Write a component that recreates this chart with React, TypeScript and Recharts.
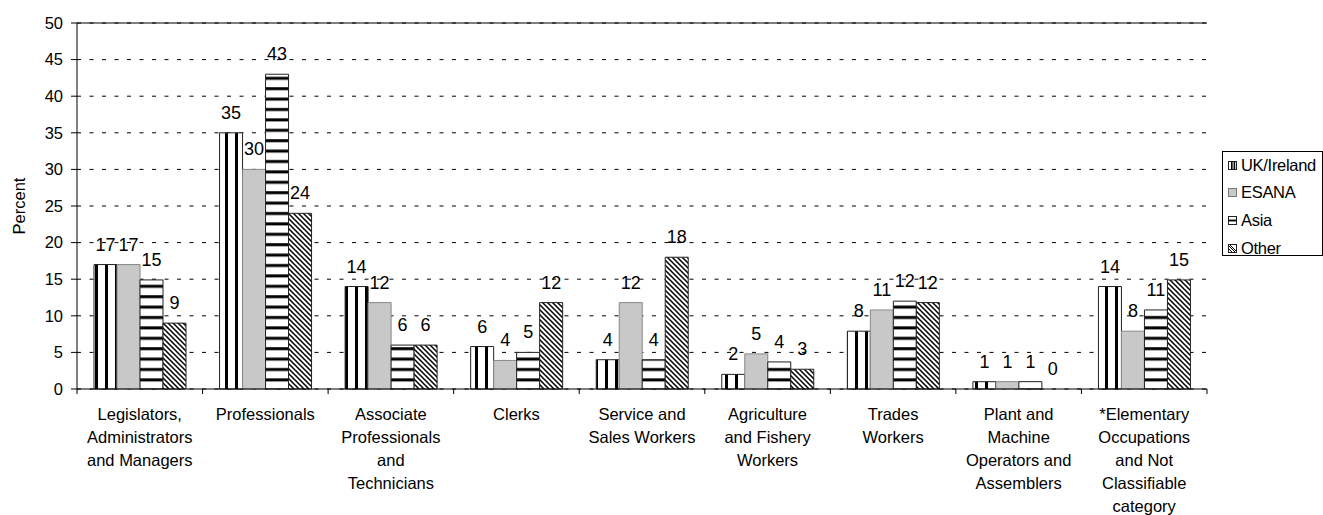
import { Bar, BarChart, CartesianGrid, LabelList, ReferenceDot, ReferenceLine, XAxis, YAxis } from 'recharts'

const FONT = '"Liberation Sans", Arial, sans-serif'

const categories = [
  'Legislators, Administrators and Managers',
  'Professionals',
  'Associate Professionals and Technicians',
  'Clerks',
  'Service and Sales Workers',
  'Agriculture and Fishery Workers',
  'Trades Workers',
  'Plant and Machine Operators and Assemblers',
  '*Elementary Occupations and Not Classifiable category',
]

const tickLabels = [
  ['Legislators,', 'Administrators', 'and Managers'],
  ['Professionals'],
  ['Associate', 'Professionals', 'and', 'Technicians'],
  ['Clerks'],
  ['Service and', 'Sales Workers'],
  ['Agriculture', 'and Fishery', 'Workers'],
  ['Trades', 'Workers'],
  ['Plant and', 'Machine', 'Operators and', 'Assemblers'],
  ['*Elementary', 'Occupations', 'and Not', 'Classifiable', 'category'],
]

const ukIreland = [17, 35, 14, 5.8, 4, 2, 7.9, 1, 14]
const esana = [17, 30, 11.8, 3.9, 11.8, 4.8, 10.8, 1, 7.9]
const asia = [14.9, 43, 6, 5, 4, 3.7, 12, 1, 10.8]
const other = [9, 24, 6, 11.8, 18, 2.7, 11.8, 0, 14.9]

const yTicks = [0, 5, 10, 15, 20, 25, 30, 35, 40, 45, 50]

const data = categories.map((name, i) => ({
  name,
  uk: ukIreland[i],
  esana: esana[i],
  asia: asia[i],
  other: other[i],
}))

const series = [
  { key: 'uk', label: 'UK/Ireland', fill: 'url(#pat-vert)', stroke: '#222' },
  { key: 'esana', label: 'ESANA', fill: '#c8c8c8', stroke: '#888' },
  { key: 'asia', label: 'Asia', fill: 'url(#pat-horiz)', stroke: '#222' },
  { key: 'other', label: 'Other', fill: 'url(#pat-diag)', stroke: '#222' },
]

const labelStyle = { fill: '#000', fontSize: 18, fontFamily: FONT }

function CategoryTick(props: any) {
  const { x, y, payload } = props
  const idx = categories.indexOf(payload.value)
  const lines = tickLabels[idx] || [payload.value]
  const half = payload.offset || 0
  return (
    <g>
      <line x1={x - half} x2={x - half} y1={y} y2={y + 5} stroke="#000" />
      {idx === categories.length - 1 && <line x1={x + half} x2={x + half} y1={y} y2={y + 5} stroke="#000" />}
      <text x={x} y={y + 31} textAnchor="middle" fontSize={16.5} fontFamily={FONT} fill="#000">
        {lines.map((line, i) => (
          <tspan key={i} x={x} dy={i === 0 ? 0 : 23}>
            {line}
          </tspan>
        ))}
      </text>
    </g>
  )
}

function PercentLabel() {
  return (
    <text x={25} y={206} transform="rotate(-90 25 206)" textAnchor="middle" fontSize={16.5} fontFamily={FONT} fill="#000">
      Percent
    </text>
  )
}

function LegendIcon({ kind }: { kind: string }) {
  return (
    <svg width={9} height={9} style={{ display: 'block' }}>
      {kind === 'esana' ? (
        <rect x={0.5} y={0.5} width={8} height={8} fill="#c8c8c8" stroke="#777" />
      ) : (
        <rect x={0.5} y={0.5} width={8} height={8} fill="#fff" stroke="#222" />
      )}
      {kind === 'uk' && (
        <>
          <rect x={3} y={0.5} width={1.6} height={8} fill="#000" />
          <rect x={5.6} y={0.5} width={1.6} height={8} fill="#000" />
        </>
      )}
      {kind === 'asia' && <rect x={0.5} y={3.6} width={8} height={1.8} fill="#000" />}
      {kind === 'other' && <path d="M1,2 L7,8 M2,1 L8,7 M1,5 L4,8" stroke="#000" strokeWidth={1} />}
    </svg>
  )
}

export default function App() {
  return (
    <div style={{ position: 'absolute', left: 0, top: 0, width: 1323, height: 515, background: '#fff', fontFamily: FONT }}>
      <BarChart
        width={1323}
        height={515}
        data={data}
        margin={{ top: 23, right: 116, bottom: 0, left: 0 }}
        barCategoryGap={17}
        barGap={0}
      >
        <defs>
          <pattern id="pat-vert" patternUnits="userSpaceOnUse" width={10} height={10}>
            <rect width={10} height={10} fill="#fff" />
            <rect x={5} width={3} height={10} fill="#000" />
          </pattern>
          <pattern id="pat-horiz" patternUnits="userSpaceOnUse" width={10} height={10.4}>
            <rect width={10} height={10.4} fill="#fff" />
            <rect y={4} width={10} height={3} fill="#000" />
          </pattern>
          <pattern id="pat-diag" patternUnits="userSpaceOnUse" width={5} height={5}>
            <rect width={5} height={5} fill="#fff" />
            <path d="M0,0 L5,5 M-1,4 L1,6 M4,-1 L6,1" stroke="#000" strokeWidth={1.5} />
          </pattern>
        </defs>
        <CartesianGrid vertical={false} stroke="#000" strokeDasharray="4 8.5" />
        <ReferenceLine y={50} stroke="#000" strokeWidth={1.2} />
        <XAxis
          dataKey="name"
          height={126}
          interval={0}
          tickLine={false}
          tickSize={0}
          tickMargin={0}
          axisLine={{ stroke: '#000' }}
          tick={<CategoryTick />}
        />
        <YAxis
          width={77}
          domain={[0, 50]}
          ticks={yTicks}
          interval={0}
          tickSize={6}
          tickMargin={8}
          axisLine={{ stroke: '#000' }}
          tickLine={{ stroke: '#000' }}
          tick={{ fill: '#000', fontSize: 16.5, fontFamily: FONT }}
          label={<PercentLabel />}
        />
        <YAxis yAxisId="right" orientation="right" width={0} tick={false} tickLine={false} axisLine={{ stroke: '#333' }} />
        {series.map((s) => (
          <Bar key={s.key} dataKey={s.key} fill={s.fill} stroke={s.stroke} strokeWidth={1} isAnimationActive={false}>
            <LabelList
              dataKey={s.key}
              position="top"
              offset={14}
              formatter={(v: any) => String(Math.round(Number(v)))}
              style={labelStyle}
            />
          </Bar>
        ))}
        {/* zero-height bars get no label from LabelList, so add it at the data point */}
        {other.map((v, i) =>
          v === 0 ? (
            <ReferenceDot
              key={`zero-${i}`}
              x={categories[i]}
              y={v}
              r={0}
              stroke="none"
              fill="none"
              label={{ value: String(v), position: 'top', offset: 14, dx: 34, style: labelStyle }}
            />
          ) : null,
        )}
      </BarChart>
      <div
        style={{
          position: 'absolute',
          left: 1222,
          top: 151,
          width: 101,
          height: 105,
          border: '1px solid #000',
          boxSizing: 'border-box',
          background: '#fff',
        }}
      >
        {series.map((s, i) => (
          <div
            key={s.key}
            style={{
              position: 'absolute',
              left: 5,
              top: 3 + i * 27.7,
              height: 20,
              display: 'flex',
              alignItems: 'center',
              gap: 4,
              fontSize: 16.5,
              letterSpacing: -0.3,
              whiteSpace: 'nowrap',
              color: '#000',
            }}
          >
            <LegendIcon kind={s.key} />
            <span>{s.label}</span>
          </div>
        ))}
      </div>
    </div>
  )
}
